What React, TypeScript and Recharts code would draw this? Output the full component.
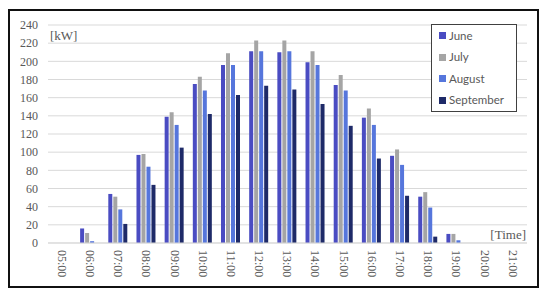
import { Bar, BarChart, CartesianGrid, Legend, XAxis, YAxis } from 'recharts';

const hours = [
  '05:00', '06:00', '07:00', '08:00', '09:00', '10:00', '11:00', '12:00', '13:00',
  '14:00', '15:00', '16:00', '17:00', '18:00', '19:00', '20:00', '21:00',
];
const june = [0, 16, 54, 97, 139, 175, 196, 211, 210, 199, 174, 138, 96, 51, 10, 0, 0];
const july = [0, 11, 51, 98, 144, 183, 209, 223, 223, 211, 185, 148, 103, 56, 10, 0, 0];
const august = [0, 2, 37, 84, 130, 168, 196, 211, 211, 196, 168, 130, 86, 39, 3, 0, 0];
const september = [0, 0, 21, 64, 105, 142, 163, 173, 169, 153, 129, 93, 52, 7, 0, 0, 0];
const yTicks = [0, 20, 40, 60, 80, 100, 120, 140, 160, 180, 200, 220, 240];

const series = [
  { key: 'june', name: 'June', color: '#4a4cc2' },
  { key: 'july', name: 'July', color: '#a5a5a5' },
  { key: 'august', name: 'August', color: '#5676dc' },
  { key: 'september', name: 'September', color: '#1e2a68' },
];

const data = hours.map((h, i) => ({
  hour: h,
  june: june[i],
  july: july[i],
  august: august[i],
  september: september[i],
}));

const serif = '"Liberation Serif", "Times New Roman", serif';
const textGrey = '#595959';

// rotated hour labels, reading top to bottom
function HourTick({ x, y, payload }: any) {
  return (
    <text
      x={0}
      y={0}
      dy="0.35em"
      transform={`translate(${x},${y - 1}) rotate(90)`}
      textAnchor="start"
      fill={textGrey}
      fontFamily={serif}
      fontSize={12}
    >
      {payload.value}
    </text>
  );
}

function LegendBox() {
  return (
    <div
      style={{
        border: '1px solid #404040',
        background: '#fff',
        padding: '0 0 0 7px',
        boxSizing: 'border-box',
        width: 86,
        height: 88,
      }}
    >
      {series.map((s) => (
        <div
          key={s.key}
          style={{
            display: 'flex',
            alignItems: 'center',
            height: 21.5,
            fontFamily: 'Lato, sans-serif',
            fontSize: 11.5,
            lineHeight: '12px',
            color: textGrey,
          }}
        >
          <span style={{ width: 7, height: 7, background: s.color, marginRight: 3, flexShrink: 0 }} />
          {s.name}
        </div>
      ))}
    </div>
  );
}

export default function App() {
  return (
    <div
      style={{
        position: 'relative',
        width: 531,
        height: 279,
        border: '2px solid #111',
        boxSizing: 'border-box',
        background: '#fff',
        marginTop: 1,
      }}
    >
      <BarChart
        width={527}
        height={275}
        data={data}
        margin={{ top: 14, right: 10, left: 0, bottom: 0 }}
        barCategoryGap="14%"
        barGap={1}
      >
        <CartesianGrid vertical={false} stroke="#d9d9d9" />
        <XAxis
          dataKey="hour"
          height={43}
          axisLine={{ stroke: '#d9d9d9' }}
          tickLine={false}
          tick={<HourTick />}
          interval={0}
        />
        <YAxis
          width={38}
          domain={[0, 240]}
          ticks={yTicks}
          interval={0}
          axisLine={false}
          tickLine={false}
          tickSize={0}
          tickMargin={10}
          tick={{ fill: textGrey, fontFamily: serif, fontSize: 12 }}
        />
        <Legend
          layout="vertical"
          align="center"
          verticalAlign="middle"
          content={<LegendBox />}
          wrapperStyle={{ position: 'absolute', left: 421, top: 13, width: 86, height: 88 }}
        />
        {series.map((s) => (
          <Bar key={s.key} dataKey={s.key} name={s.name} fill={s.color} isAnimationActive={false} />
        ))}
      </BarChart>
      <div
        style={{
          position: 'absolute',
          left: 40,
          top: 17,
          fontFamily: serif,
          fontSize: 13,
          color: textGrey,
        }}
      >
        [kW]
      </div>
      <div
        style={{
          position: 'absolute',
          right: 11,
          top: 216,
          fontFamily: serif,
          fontSize: 13,
          color: textGrey,
        }}
      >
        [Time]
      </div>
    </div>
  );
}
